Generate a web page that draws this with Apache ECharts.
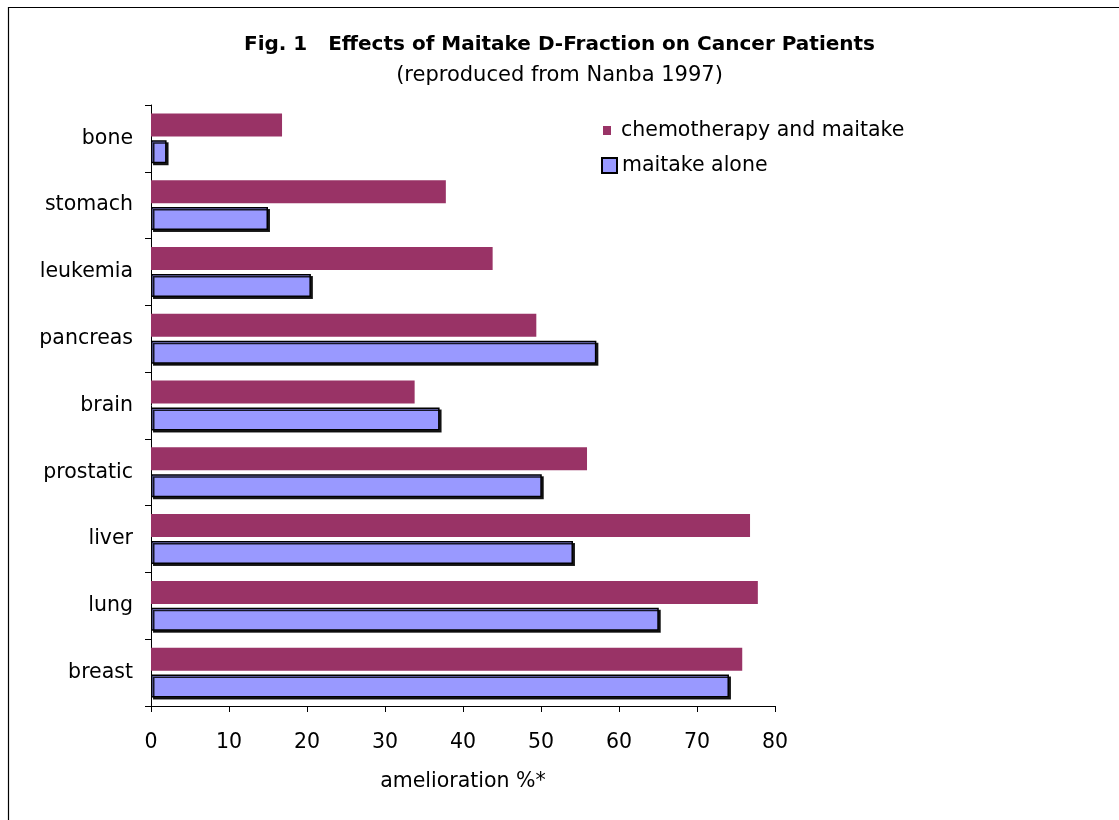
<!DOCTYPE html>
<html>
<head>
<meta charset="utf-8">
<script src="https://cdn.jsdelivr.net/npm/echarts@6/dist/echarts.min.js"></script>
<style>
html,body{margin:0;padding:0;background:#fff;}
#chart{width:1119px;height:820px;}
</style>
</head>
<body>
<div id="chart"></div>
<script>
// Categories listed bottom-to-top (as ECharts category y axis draws them)
const categories = ['breast', 'lung', 'liver', 'prostatic', 'brain', 'pancreas', 'leukemia', 'stomach', 'bone'];
const chemoAndMaitake = [75.8, 77.8, 76.8, 55.9, 33.8, 49.4, 43.8, 37.8, 16.8];
const maitakeAlone = [74.1, 65.1, 54.1, 50.1, 37.0, 57.1, 20.5, 15.0, 2.0];
const seriesNames = ['chemotherapy and maitake', 'maitake alone'];
const xTicks = { min: 0, max: 80, interval: 10 };

const FONT = '"DejaVu Sans", "Liberation Sans", Arial, sans-serif';
const chart = echarts.init(document.getElementById('chart'));
chart.setOption({
  backgroundColor: '#fff',
  animation: false,
  textStyle: { fontFamily: FONT, color: '#000' },
  title: {
    text: 'Fig. 1   Effects of Maitake D-Fraction on Cancer Patients',
    subtext: '(reproduced from Nanba 1997)',
    left: 'center',
    top: 30,
    padding: [5, 0, 5, 15],
    itemGap: 10,
    textStyle: { fontFamily: FONT, fontSize: 20, fontWeight: 'bold', color: '#000' },
    subtextStyle: { fontFamily: FONT, fontSize: 21, color: '#000' }
  },
  legend: [
    {
      data: [seriesNames[0]],
      left: 603, top: 120, padding: 0,
      itemWidth: 8, itemHeight: 9,
      icon: 'rect',
      itemStyle: { color: '#993366', borderWidth: 0, shadowColor: 'transparent' },
      textStyle: { fontFamily: FONT, fontSize: 20.5, color: '#000', padding: [0, 0, 0, 5] }
    },
    {
      data: [seriesNames[1]],
      left: 601, top: 155, padding: 0,
      itemWidth: 15, itemHeight: 15,
      icon: 'rect',
      itemStyle: { color: '#9999FF', borderColor: '#000', borderWidth: 2, shadowColor: 'transparent' },
      textStyle: { fontFamily: FONT, fontSize: 20.5, color: '#000' }
    }
  ],
  grid: { left: 151, right: 344, top: 105, bottom: 114, containLabel: false },
  xAxis: {
    type: 'value',
    min: xTicks.min, max: xTicks.max, interval: xTicks.interval,
    name: 'amelioration %*',
    nameLocation: 'middle',
    nameGap: 65,
    nameTextStyle: { fontFamily: FONT, fontSize: 20.5, color: '#000' },
    axisLine: { show: true, lineStyle: { color: '#000', width: 1 } },
    axisTick: { show: true, length: 6, lineStyle: { color: '#000' } },
    axisLabel: { fontFamily: FONT, fontSize: 20.5, color: '#000', margin: 26 },
    splitLine: { show: false }
  },
  yAxis: {
    type: 'category',
    data: categories,
    axisLine: { show: true, lineStyle: { color: '#000', width: 1 } },
    axisTick: { show: true, length: 6, lineStyle: { color: '#000' } },
    axisLabel: { fontFamily: FONT, fontSize: 20.5, color: '#000', margin: 18 },
    splitLine: { show: false }
  },
  series: [
    {
      name: seriesNames[0],
      type: 'bar',
      data: chemoAndMaitake,
      barWidth: 23,
      barGap: '17%',
      itemStyle: { color: '#993366' }
    },
    {
      name: seriesNames[1],
      type: 'bar',
      data: maitakeAlone,
      barWidth: 23,
      itemStyle: {
        color: '#9999FF', borderColor: '#000', borderWidth: 1.5,
        shadowColor: 'rgba(0,0,0,0.85)', shadowOffsetX: 2, shadowOffsetY: 2, shadowBlur: 0
      }
    }
  ],
  graphic: [
    {
      type: 'rect',
      shape: { x: 8.5, y: 7.5, width: 1300, height: 1000 },
      style: { fill: 'none', stroke: '#000', lineWidth: 1.2 },
      silent: true
    }
  ]
});
</script>
</body>
</html>
